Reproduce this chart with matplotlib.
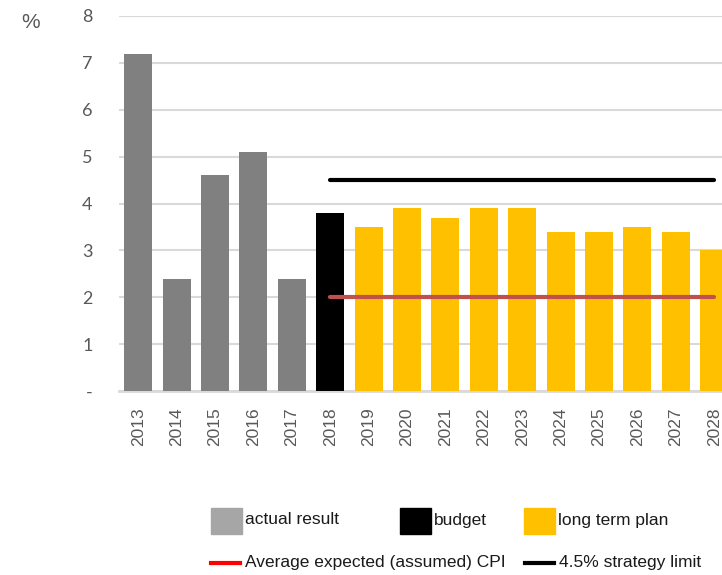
import matplotlib.pyplot as plt
from matplotlib.patches import Rectangle
from matplotlib.lines import Line2D

years = ['2013', '2014', '2015', '2016', '2017', '2018', '2019', '2020',
         '2021', '2022', '2023', '2024', '2025', '2026', '2027', '2028']
values = [7.2, 2.4, 4.6, 5.1, 2.4, 3.8, 3.5, 3.9,
          3.7, 3.9, 3.9, 3.4, 3.4, 3.5, 3.4, 3.0]
kinds = ['actual'] * 5 + ['budget'] + ['plan'] * 10
cpi_level = 2.0
strategy_limit = 4.5
line_years = ['2018', '2028']

colors = {'actual': '#808080', 'budget': '#000000', 'plan': '#FFC000'}
W, H = 722, 575

fig = plt.figure(figsize=(7.22, 5.75), dpi=100)
ax = fig.add_axes([119 / W, 184 / H, 614.4 / W, 375 / H])

x = list(range(len(years)))
ax.bar(x, values, width=0.73, color=[colors[k] for k in kinds], zorder=2)

x0 = years.index(line_years[0])
x1 = years.index(line_years[1])
ax.plot([x0, x1], [cpi_level, cpi_level], color='#C0504D', lw=3,
        solid_capstyle='round', zorder=3)
ax.plot([x0, x1], [strategy_limit, strategy_limit], color='#000000', lw=3,
        solid_capstyle='round', zorder=3)

ax.set_xlim(-0.5, len(years) - 0.5)
ax.set_ylim(0, 8)
ax.set_yticks(range(0, 9))
ax.set_yticklabels(['-'] + [str(i) for i in range(1, 9)],
                   fontfamily='Lato', fontsize=13, color='#595959')
ax.set_xticks(x)
ax.set_xticklabels(years, rotation=90, fontfamily='Liberation Sans',
                   fontsize=12.5, color='#595959')
ax.tick_params(axis='y', length=0, pad=19)
ax.tick_params(axis='x', length=0, pad=12)
ax.grid(axis='y', color='#D9D9D9', lw=1.5, zorder=0)
for s in ['left', 'right', 'top']:
    ax.spines[s].set_visible(False)
ax.spines['bottom'].set_color('#D9D9D9')
ax.spines['bottom'].set_linewidth(2)
ax.spines['bottom'].set_zorder(1)

fig.text(31 / W, 1 - 23 / H, '%', fontfamily='Liberation Sans', fontsize=15,
         color='#595959', ha='center', va='center')

# legend drawn in figure pixels
def px(xp, yp):
    return xp / W, 1 - yp / H

leg_font = dict(fontfamily=['Liberation Sans Narrow', 'Liberation Sans'],
                fontsize=12.5, color='#1a1a1a', va='center', ha='left')

patch_items = [(211, '#A6A6A6', 'actual result'),
               (400, '#000000', 'budget'),
               (524, '#FFC000', 'long term plan')]
for xl, c, label in patch_items:
    fx, fy = px(xl, 534)
    fig.add_artist(Rectangle((fx, fy), 31 / W, 26 / H, color=c,
                             transform=fig.transFigure))
    tx, ty = px(xl + 34, 520)
    fig.text(tx, ty, label, **leg_font)

line_items = [(211, '#FF0000', 'Average expected (assumed) CPI'),
              (525, '#000000', '4.5% strategy limit')]
for xl, c, label in line_items:
    ax_, ay_ = px(xl, 563)
    bx_, _ = px(xl + 29, 563)
    fig.add_artist(Line2D([ax_, bx_], [ay_, ay_], color=c, lw=3,
                          transform=fig.transFigure))
    tx, ty = px(xl + 34, 562)
    fig.text(tx, ty, label, **leg_font)

fig.savefig('out.png', dpi=100)
